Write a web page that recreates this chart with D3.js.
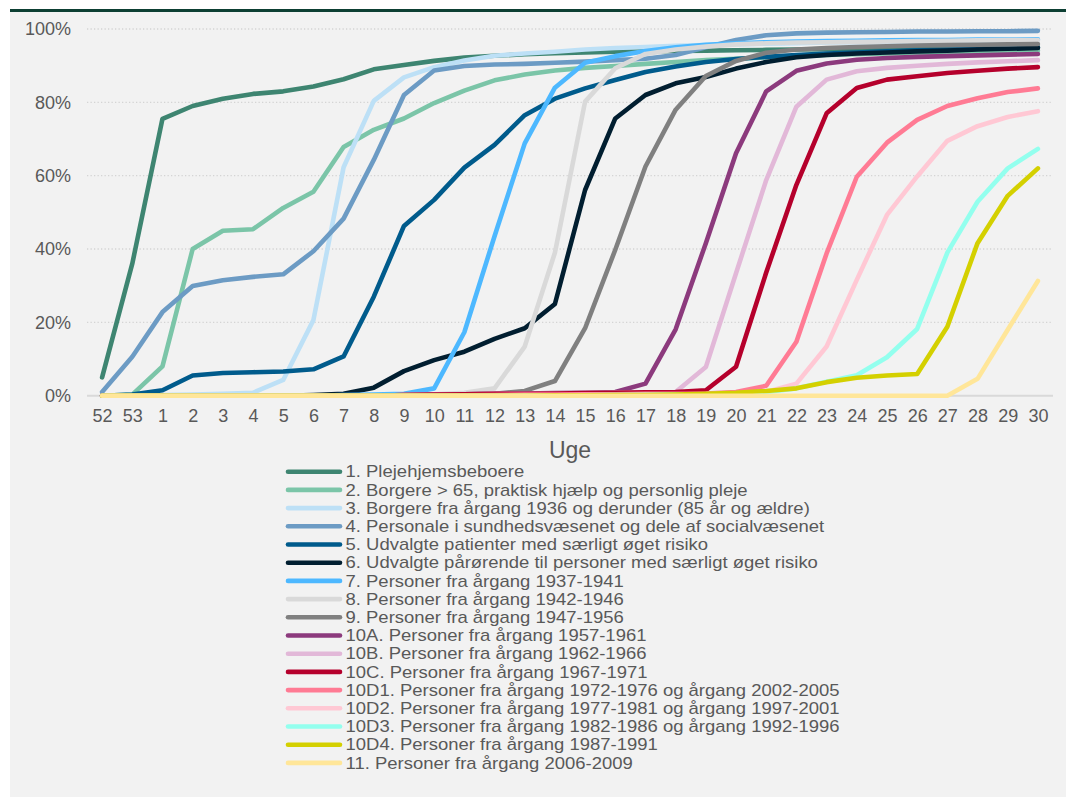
<!DOCTYPE html>
<html>
<head>
<meta charset="utf-8">
<script src="https://cdn.jsdelivr.net/npm/d3@7"></script>
<style>
  body { margin: 0; background: #ffffff; }
  svg { display: block; font-family: "Liberation Sans", Arial, sans-serif; }
</style>
</head>
<body>
<svg id="chart"></svg>
<script>
// uger (x-akse)
const weeks = ["52", "53", "1", "2", "3", "4", "5", "6", "7", "8", "9", "10", "11", "12", "13", "14",
  "15", "16", "17", "18", "19", "20", "21", "22", "23", "24", "25", "26", "27", "28", "29", "30"];

const yTicks = [0, 20, 40, 60, 80, 100];

// vaccinationstilslutning pr. målgruppe (%)
const g1 = [5, 36, 75.5, 79, 81, 82.3, 83, 84.3, 86.3, 89, 90.2, 91.3, 92.2, 92.7, 93.1, 93.4,
  93.6, 93.8, 93.9, 94, 94.1, 94.2, 94.3, 94.4, 94.5, 94.6, 94.6, 94.7, 94.8, 94.8, 94.9, 95];
const g2 = [0, 0.3, 8, 40, 45, 45.4, 51.2, 55.6, 67.8, 72.5, 75.6, 79.8, 83.2, 86, 87.6, 88.7,
  89.4, 89.9, 90.5, 91, 91.5, 91.9, 92.3, 92.6, 92.9, 93.1, 93.3, 93.5, 93.7, 93.8, 93.9, 94.1];
const g3 = [0, 0, 0.2, 0.3, 0.5, 0.8, 4.3, 20.6, 62.3, 80.4, 86.8, 89.6, 91.4, 92.7, 93.3, 93.8,
  94.4, 94.8, 95.1, 95.4, 95.6, 95.8, 96, 96.1, 96.3, 96.4, 96.5, 96.6, 96.7, 96.8, 96.9, 97];
const g4 = [1, 10.6, 22.8, 29.9, 31.5, 32.4, 33.1, 39.4, 48.3, 64.3, 82, 88.7, 89.9, 90.3, 90.5, 90.8,
  91.1, 91.5, 91.9, 92.9, 95, 97, 98.3, 98.8, 99, 99.1, 99.2, 99.3, 99.3, 99.4, 99.4, 99.5];
const g5 = [0, 0.3, 1.5, 5.5, 6.2, 6.4, 6.6, 7.2, 10.7, 27, 46.3, 53.4, 62.2, 68.4, 76.5, 81,
  83.8, 86.1, 88.3, 89.8, 91, 91.8, 92.4, 92.9, 93.3, 93.6, 93.9, 94.2, 94.4, 94.6, 94.8, 95];
const g6 = [0, 0, 0, 0, 0, 0, 0, 0.2, 0.5, 2.2, 6.7, 9.7, 12, 15.5, 18.4, 25,
  56.1, 75.6, 82, 85.2, 86.9, 89.2, 91, 92.3, 92.9, 93.3, 93.6, 93.9, 94.1, 94.4, 94.6, 94.8];
const g7 = [0, 0, 0, 0, 0, 0, 0, 0, 0.2, 0.3, 0.5, 2, 17.3, 43.5, 68.8, 84,
  90.8, 92.6, 94, 95, 95.7, 96.1, 96.4, 96.6, 96.7, 96.8, 96.9, 97, 97, 97.1, 97.1, 97.2];
const g8 = [0, 0, 0, 0, 0, 0, 0, 0, 0, 0, 0.2, 0.4, 0.8, 2, 13.4, 39,
  80.2, 89.3, 93.2, 94.4, 95.2, 95.8, 96.1, 96.3, 96.4, 96.5, 96.6, 96.7, 96.8, 96.9, 97, 97];
const g9 = [0, 0, 0, 0, 0, 0, 0, 0, 0, 0, 0.2, 0.3, 0.4, 0.5, 1.3, 4,
  18.4, 39.8, 62.5, 78, 87.2, 91.3, 93.5, 94.4, 94.8, 95.1, 95.3, 95.5, 95.6, 95.7, 95.8, 95.9];
const g10a = [0, 0, 0, 0, 0, 0, 0, 0, 0, 0, 0.2, 0.3, 0.4, 0.5, 0.6, 0.7,
  0.8, 1, 3.3, 18.1, 41.6, 66.1, 83, 88.6, 90.6, 91.6, 92.1, 92.4, 92.6, 92.8, 93, 93.2];
const g10b = [0, 0, 0, 0, 0, 0, 0, 0, 0, 0, 0.2, 0.3, 0.4, 0.5, 0.5, 0.6,
  0.7, 0.8, 0.9, 1, 7.8, 33.4, 58.8, 78.8, 86.2, 88.5, 89.4, 90, 90.5, 90.9, 91.2, 91.5];
const g10c = [0, 0, 0, 0, 0, 0, 0, 0, 0, 0, 0.2, 0.3, 0.4, 0.5, 0.5, 0.6,
  0.7, 0.8, 0.9, 1, 1.5, 7.9, 33.6, 57.5, 77, 83.9, 86.2, 87.1, 88, 88.6, 89.2, 89.6];
const g10d1 = [0, 0, 0, 0, 0, 0, 0, 0, 0, 0, 0, 0, 0.1, 0.2, 0.3, 0.3,
  0.4, 0.4, 0.5, 0.5, 0.6, 1, 2.7, 14.7, 38.8, 59.7, 69, 75.2, 79, 81.1, 82.8, 83.8];
const g10d2 = [0, 0, 0, 0, 0, 0, 0, 0, 0, 0, 0, 0, 0, 0, 0.1, 0.1,
  0.2, 0.2, 0.3, 0.3, 0.4, 0.5, 1, 3.3, 13.4, 31.6, 49.3, 59.8, 69.5, 73.5, 76, 77.6];
const g10d3 = [0, 0, 0, 0, 0, 0, 0, 0, 0, 0, 0, 0, 0, 0, 0, 0.1,
  0.1, 0.2, 0.2, 0.3, 0.4, 0.5, 1, 2, 3.8, 5.6, 10.5, 18.2, 39, 52.9, 62, 67.3];
const g10d4 = [0, 0, 0, 0, 0, 0, 0, 0, 0, 0, 0, 0, 0, 0, 0, 0.1,
  0.1, 0.2, 0.2, 0.3, 0.5, 0.8, 1.3, 2, 3.7, 4.9, 5.5, 5.9, 18.8, 41.6, 54.5, 62];
const g11 = [0, 0, 0, 0, 0, 0, 0, 0, 0, 0, 0, 0, 0, 0, 0, 0,
  0, 0, 0, 0, 0, 0, 0, 0, 0, 0, 0, 0, 0, 4.6, 18, 31.3];

const groupNames = [
  "1. Plejehjemsbeboere",
  "2. Borgere > 65, praktisk hjælp og personlig pleje",
  "3. Borgere fra årgang 1936 og derunder (85 år og ældre)",
  "4. Personale i sundhedsvæsenet og dele af socialvæsenet",
  "5. Udvalgte patienter med særligt øget risiko",
  "6. Udvalgte pårørende til personer med særligt øget risiko",
  "7. Personer fra årgang 1937-1941",
  "8. Personer fra årgang 1942-1946",
  "9. Personer fra årgang 1947-1956",
  "10A. Personer fra årgang 1957-1961",
  "10B. Personer fra årgang 1962-1966",
  "10C. Personer fra årgang 1967-1971",
  "10D1. Personer fra årgang 1972-1976 og årgang 2002-2005",
  "10D2. Personer fra årgang 1977-1981 og årgang 1997-2001",
  "10D3. Personer fra årgang 1982-1986 og årgang 1992-1996",
  "10D4. Personer fra årgang 1987-1991",
  "11. Personer fra årgang 2006-2009"
];

const groupColors = ["#3e8571", "#7bc5a8", "#bde0f6", "#6c9bc4", "#005b8c", "#011e30", "#4db8ff",
  "#d9d9d9", "#808080", "#8c3a7d", "#e2b8d8", "#b5002c", "#ff7b94", "#ffc8d4", "#93ffee",
  "#d4d000", "#ffe699"];

const groupValues = [g1, g2, g3, g4, g5, g6, g7, g8, g9, g10a, g10b, g10c, g10d1, g10d2, g10d3, g10d4, g11];

const series = groupNames.map((name, i) => ({
  name,
  color: groupColors[i],
  values: groupValues[i].map((v, j) => ({ week: weeks[j], value: v }))
}));

const width = 1066, height = 798;
const svg = d3.select('#chart').attr('width', width).attr('height', height);

// baggrund og topstreg
svg.append('rect').attr('x', 10).attr('y', 11).attr('width', width - 10).attr('height', 786)
  .attr('fill', '#f2f2f2');
svg.append('rect').attr('x', 10).attr('y', 9).attr('width', width - 10).attr('height', 3)
  .attr('fill', '#0d3f33');

const plot = { left: 87, right: 1053, top: 29, bottom: 395.7 };

const x = d3.scalePoint().domain(weeks).range([plot.left, plot.right]).padding(0.5);
const y = d3.scaleLinear().domain([0, 100]).range([plot.bottom, plot.top]);

// gitterlinjer
svg.append('g')
  .selectAll('line')
  .data(yTicks.filter(d => d > 0))
  .enter()
  .append('line')
  .attr('x1', plot.left).attr('x2', plot.right)
  .attr('y1', d => y(d)).attr('y2', d => y(d))
  .attr('stroke', '#d4d4d4')
  .attr('stroke-width', 1.3)
  .attr('stroke-dasharray', '1.3,2.2');

svg.append('line')
  .attr('x1', plot.left).attr('x2', plot.right)
  .attr('y1', y(0)).attr('y2', y(0))
  .attr('stroke', '#d9d9d9').attr('stroke-width', 2);

// y-akse
const yAxis = d3.axisLeft(y).tickValues(yTicks).tickFormat(d => d + '%').tickSize(0).tickPadding(0);
const yG = svg.append('g').attr('transform', 'translate(71,0)').call(yAxis);
yG.select('.domain').remove();
yG.selectAll('text').attr('fill', '#595959').style('font-size', '18px')
  .style('font-family', '"Liberation Sans", Arial, sans-serif');

// x-akse
const xAxis = d3.axisBottom(x).tickSize(0).tickPadding(0);
const xG = svg.append('g').attr('transform', 'translate(0,409)').call(xAxis);
xG.select('.domain').remove();
xG.selectAll('text').attr('fill', '#595959').style('font-size', '18px')
  .style('font-family', '"Liberation Sans", Arial, sans-serif');

svg.append('text')
  .attr('x', 570).attr('y', 458)
  .attr('text-anchor', 'middle')
  .attr('fill', '#595959')
  .style('font-size', '23px')
  .text('Uge');

// linjer
const line = d3.line()
  .x(d => x(d.week))
  .y(d => y(d.value));

svg.append('g')
  .selectAll('path')
  .data(series)
  .enter()
  .append('path')
  .attr('d', d => line(d.values))
  .attr('fill', 'none')
  .attr('stroke', d => d.color)
  .attr('stroke-width', 4.6)
  .attr('stroke-linejoin', 'round')
  .attr('stroke-linecap', 'round');

// forklaring (tekst lidt bredere end høj, som i originalen)
const legend = svg.append('g');
const rowH = 18.2, legTop = 471.7;

const rows = legend.selectAll('g')
  .data(series)
  .enter()
  .append('g')
  .attr('transform', (d, i) => `translate(0,${legTop + i * rowH})`);

rows.append('line')
  .attr('x1', 288).attr('x2', 340)
  .attr('stroke', d => d.color)
  .attr('stroke-width', 4.6)
  .attr('stroke-linecap', 'round');

rows.append('text')
  .attr('transform', 'translate(345.5,0) scale(1.17,1)')
  .attr('dy', '0.36em')
  .attr('fill', '#595959')
  .style('font-size', '15.8px')
  .text(d => d.name);
</script>
</body>
</html>
